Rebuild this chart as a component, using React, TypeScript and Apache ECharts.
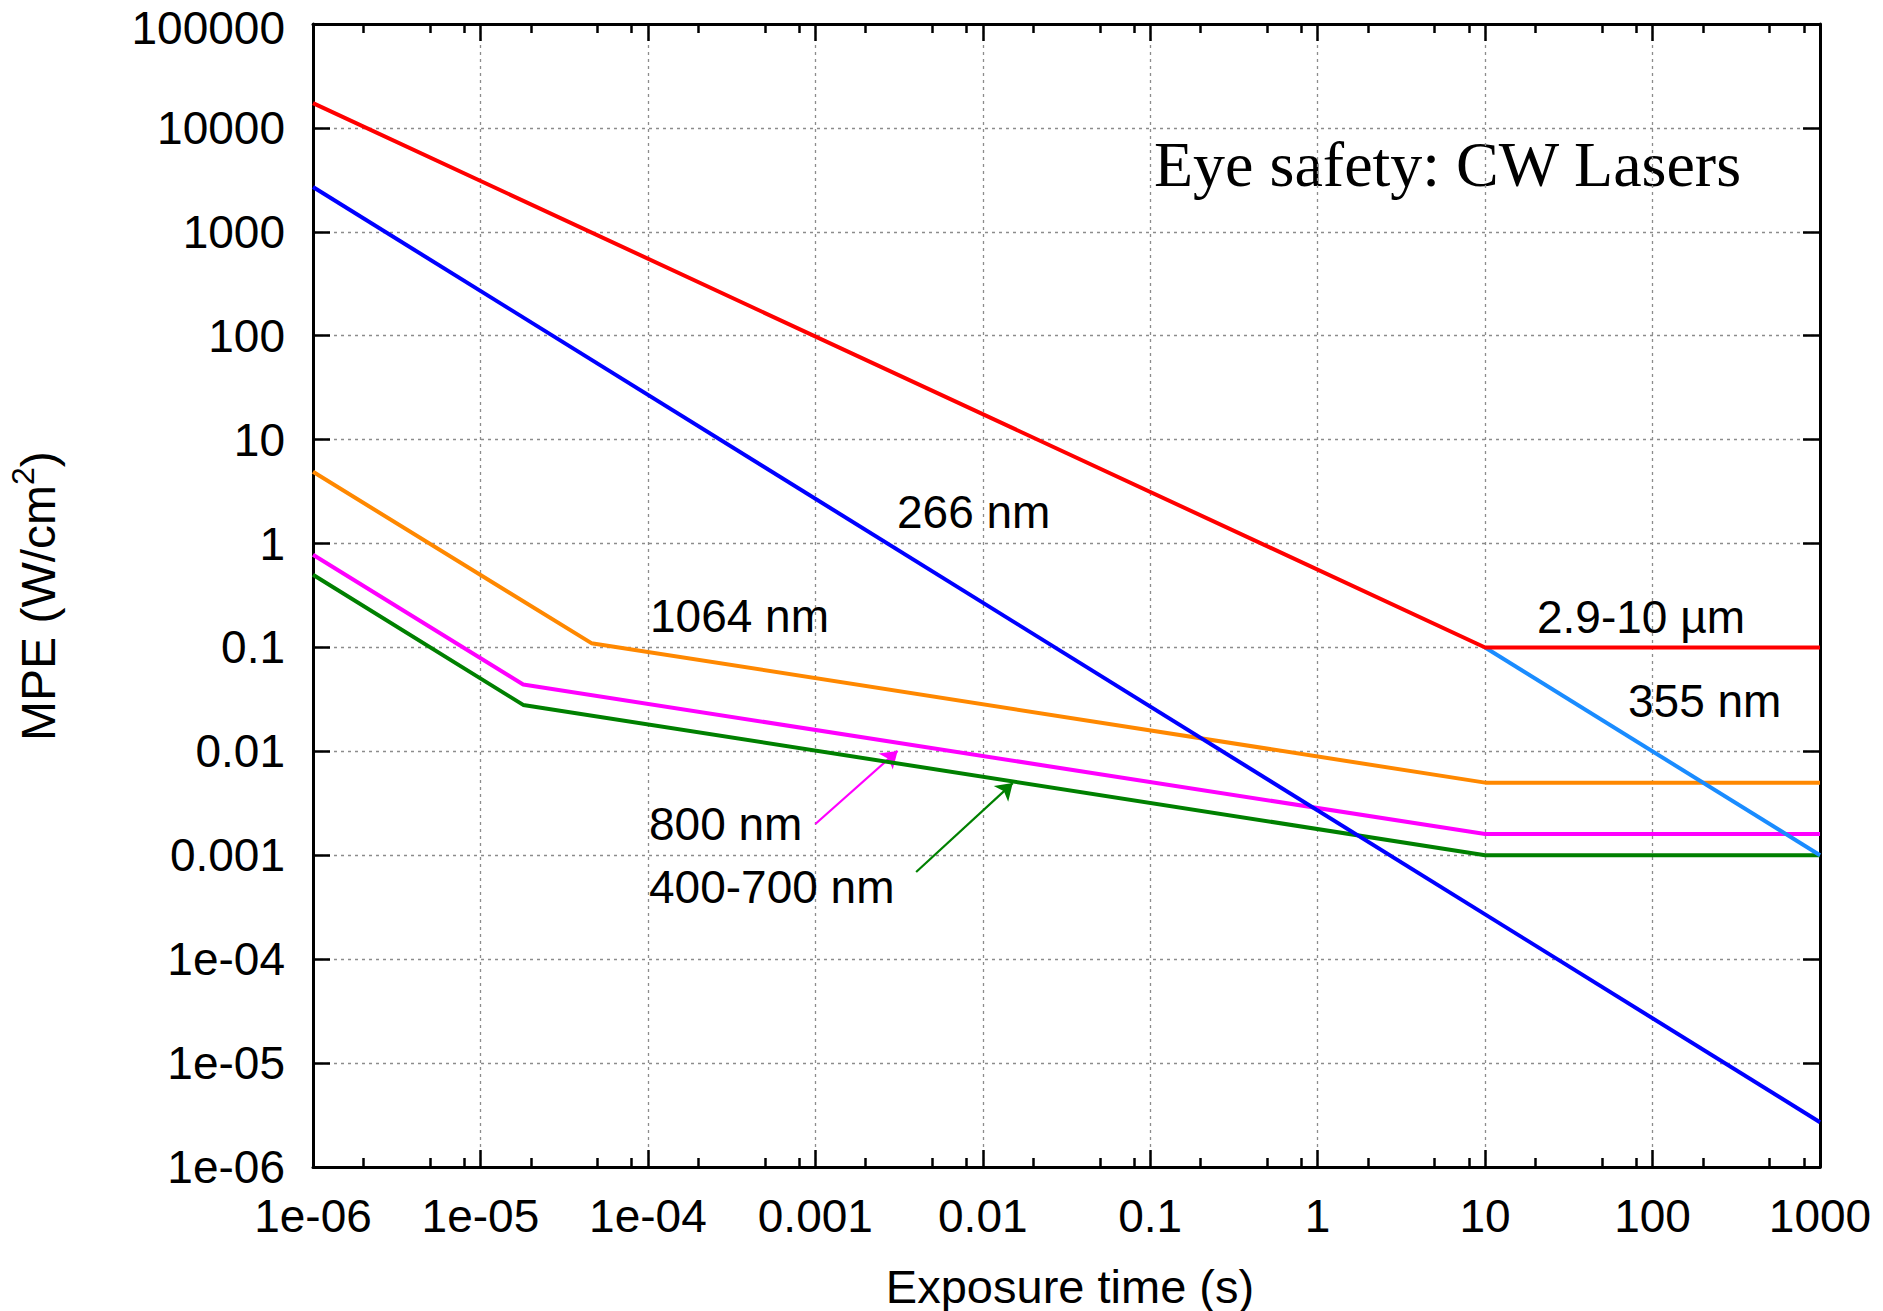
import React, { useEffect, useRef } from "react";
import * as echarts from "echarts";

// ---- Tick values / labels ----
const xTickValues = [1e-6, 1e-5, 1e-4, 1e-3, 1e-2, 1e-1, 1, 10, 100, 1000];
const xTickLabels = ["1e-06", "1e-05", "1e-04", "0.001", "0.01", "0.1", "1", "10", "100", "1000"];
const yTickValues = [1e-6, 1e-5, 1e-4, 1e-3, 1e-2, 1e-1, 1, 10, 100, 1000, 10000, 100000];
const yTickLabels = ["1e-06", "1e-05", "1e-04", "0.001", "0.01", "0.1", "1", "10", "100", "1000", "10000", "100000"];
const minorMultipliers = [2, 5, 8];

// ---- Series (exposure time s, MPE W/cm^2) ----
const midIR_2_9_10um = [[1e-6, 17300], [10, 0.1], [1000, 0.1]];
const uv_266nm = [[1e-6, 2700], [1000, 2.7e-6]];
const uv_355nm = [[10, 0.1], [1000, 0.001]];
const nir_1064nm = [[1e-6, 4.9], [4.6e-5, 0.11], [10, 0.005], [1000, 0.005]];
const nir_800nm = [[1e-6, 0.78], [1.8e-5, 0.044], [10, 0.0016], [1000, 0.0016]];
const vis_400_700nm = [[1e-6, 0.5], [1.8e-5, 0.028], [10, 0.001], [1000, 0.001]];

// ---- Annotation arrows (data coordinates: tail -> head) ----
const arrow800 = [[0.001, 0.002], [0.0031, 0.0101]];
const arrow400_700 = [[0.004, 0.00069], [0.0151, 0.00495]];

const SANS = "'Liberation Sans', Arial, Helvetica, sans-serif";
const SERIF = "'Liberation Serif', 'Times New Roman', Times, serif";

const xMinorValues: number[] = [];
for (let i = 0; i < xTickValues.length - 1; i++) {
  for (const m of minorMultipliers) xMinorValues.push(xTickValues[i] * m);
}

function labelFor(values: number[], labels: string[], topRich?: string) {
  return (v: number) => {
    const lv = Math.log10(v);
    for (let i = 0; i < values.length; i++) {
      if (Math.abs(Math.log10(values[i]) - lv) < 1e-6) {
        if (topRich && i === values.length - 1) return "{" + topRich + "|" + labels[i] + "}";
        return labels[i];
      }
    }
    return "";
  };
}

const gridLine = { show: true, lineStyle: { color: "#8c8c8c", width: 1.3, type: [3, 4] } };

export default function App() {
  const ref = useRef<HTMLDivElement>(null);
  useEffect(() => {
    if (!ref.current) return;
    const chart = echarts.init(ref.current, null, { renderer: "svg" });

    const baseX = { type: "log", min: 1e-6, max: 1000, logBase: 10, gridIndex: 0 };
    const baseY = { type: "log", min: 1e-6, max: 100000, logBase: 10, gridIndex: 0 };
    const frameLine = { show: true, onZero: false, lineStyle: { color: "#000", width: 3 } };

    const mkLine = (name: string, data: number[][], color: string, extra: any = {}) => ({
      name,
      type: "line",
      data,
      xAxisIndex: 0,
      yAxisIndex: 0,
      showSymbol: false,
      symbol: "none",
      lineStyle: { color, width: 4 },
      itemStyle: { color },
      z: 5,
      ...extra,
    });

    const mkArrow = (pts: number[][], color: string) => ({
      silent: true,
      symbol: ["none", "arrow"],
      symbolSize: 16,
      label: { show: false },
      lineStyle: { color, width: 2.2, type: "solid" },
      data: [[{ coord: pts[0] }, { coord: pts[1] }]],
    });

    chart.setOption({
      animation: false,
      backgroundColor: "#fff",
      grid: { left: 313, top: 24, right: 63, bottom: 144, containLabel: false, outerBoundsMode: "none" },
      xAxis: [
        {
          ...baseX,
          position: "bottom",
          axisLine: frameLine,
          axisTick: { show: true, inside: true, length: 17, lineStyle: { color: "#000", width: 2.5 }, customValues: xTickValues },
          axisLabel: {
            show: true,
            customValues: xTickValues,
            formatter: labelFor(xTickValues, xTickLabels),
            fontSize: 46,
            fontFamily: SANS,
            color: "#000",
            margin: 26,
          },
          splitLine: gridLine,
        },
        {
          ...baseX,
          position: "bottom",
          axisLine: { show: false },
          axisTick: { show: true, inside: true, length: 9, lineStyle: { color: "#000", width: 2.5 }, customValues: xMinorValues },
          axisLabel: { show: false },
          splitLine: { show: false },
        },
        {
          ...baseX,
          position: "top",
          axisLine: frameLine,
          axisTick: { show: true, inside: true, length: 17, lineStyle: { color: "#000", width: 2.5 }, customValues: xTickValues },
          axisLabel: { show: false },
          splitLine: { show: false },
        },
        {
          ...baseX,
          position: "top",
          axisLine: { show: false },
          axisTick: { show: true, inside: true, length: 9, lineStyle: { color: "#000", width: 2.5 }, customValues: xMinorValues },
          axisLabel: { show: false },
          splitLine: { show: false },
        },
      ],
      yAxis: [
        {
          ...baseY,
          position: "left",
          axisLine: frameLine,
          axisTick: { show: true, inside: true, length: 17, lineStyle: { color: "#000", width: 2.5 }, customValues: yTickValues },
          axisLabel: {
            show: true,
            customValues: yTickValues,
            formatter: labelFor(yTickValues, yTickLabels, "top"),
            fontSize: 46,
            lineHeight: 40,
            fontFamily: SANS,
            color: "#000",
            margin: 28,
            rich: {
              top: { fontSize: 46, lineHeight: 40, fontFamily: SANS, color: "#000", padding: [8, 0, 0, 0] },
            },
          },
          splitLine: gridLine,
        },
        {
          ...baseY,
          position: "right",
          axisLine: frameLine,
          axisTick: { show: true, inside: true, length: 17, lineStyle: { color: "#000", width: 2.5 }, customValues: yTickValues },
          axisLabel: { show: false },
          splitLine: { show: false },
        },
      ],
      series: [
        mkLine("400-700 nm", vis_400_700nm, "#008000", { markLine: mkArrow(arrow400_700, "#008000") }),
        mkLine("800 nm", nir_800nm, "#ff00ff", { markLine: mkArrow(arrow800, "#ff00ff") }),
        mkLine("1064 nm", nir_1064nm, "#ff8800"),
        mkLine("266 nm", uv_266nm, "#0000ff"),
        mkLine("355 nm", uv_355nm, "#1a8cff"),
        mkLine("2.9-10 µm", midIR_2_9_10um, "#ff0000"),
      ],
      graphic: [
        {
          type: "text",
          x: 1154,
          y: 164,
          style: { text: "Eye safety: CW Lasers", fontSize: 64, fontFamily: SERIF, fill: "#000", align: "left", verticalAlign: "middle", textAlign: "left", textVerticalAlign: "middle" },
        },
        ...[
          ["266 nm", 897, 512],
          ["1064 nm", 650, 616],
          ["2.9-10 µm", 1537, 617],
          ["355 nm", 1628, 701],
          ["800 nm", 649, 824],
          ["400-700 nm", 649, 887],
        ].map(([t, x, y]) => ({
          type: "text",
          x,
          y,
          z: 10,
          style: { text: t, fontSize: 46, fontFamily: SANS, fill: "#000", align: "left", verticalAlign: "middle", textAlign: "left", textVerticalAlign: "middle" },
        })),
        {
          type: "text",
          x: 1070,
          y: 1286,
          style: { text: "Exposure time (s)", fontSize: 47, lineHeight: 44, fontFamily: SANS, fill: "#000", align: "center", verticalAlign: "middle", textAlign: "center", textVerticalAlign: "middle" },
        },
        {
          type: "text",
          x: 38,
          y: 596,
          rotation: Math.PI / 2,
          style: {
            text: "MPE (W/cm{sup|2})",
            fontSize: 48,
            fontFamily: SANS,
            fill: "#000",
            lineHeight: 62,
            align: "center",
            verticalAlign: "middle",
            textAlign: "center",
            textVerticalAlign: "middle",
            rich: { sup: { fontSize: 32, fontFamily: SANS, fill: "#000", verticalAlign: "top", lineHeight: 34 } },
          },
        },
      ],
    });
    return () => chart.dispose();
  }, []);
  return <div ref={ref} style={{ position: "fixed", left: 0, top: 0, width: 1883, height: 1311, background: "#fff" }} />;
}
